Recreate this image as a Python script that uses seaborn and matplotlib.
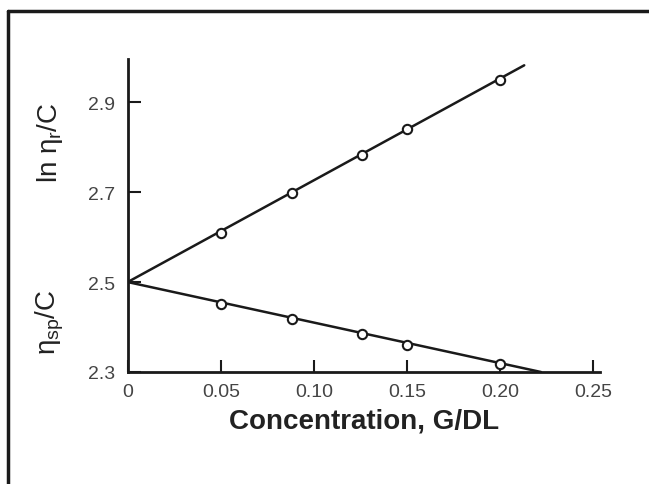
import matplotlib
matplotlib.use("Agg")
import matplotlib.pyplot as plt
from matplotlib.lines import Line2D
import seaborn as sns
import pandas as pd

# Data
conc = [0.05, 0.088, 0.126, 0.150, 0.200]
ln_eta_r_c = [2.610, 2.698, 2.782, 2.840, 2.950]
eta_sp_c = [2.451, 2.418, 2.384, 2.361, 2.318]

fit_upper_x = [0.0, 0.213]
fit_upper_y = [2.5, 2.982]
fit_lower_x = [0.0, 0.222]
fit_lower_y = [2.5, 2.300]

xticks = [0, 0.05, 0.10, 0.15, 0.20, 0.25]
xtick_labels = ["0", "0.05", "0.10", "0.15", "0.20", "0.25"]
yticks = [2.3, 2.5, 2.7, 2.9]
ytick_labels = ["2.3", "2.5", "2.7", "2.9"]

sns.set_theme(style="ticks")
plt.rcParams['font.family'] = ['Liberation Sans', 'DejaVu Sans']
plt.rcParams['mathtext.fontset'] = 'custom'
plt.rcParams['mathtext.rm'] = 'Liberation Sans'
plt.rcParams['mathtext.it'] = 'Liberation Sans'

fig = plt.figure(figsize=(6.49, 4.85), dpi=100)
ax = fig.add_axes([127.7 / 649, 1 - 373 / 485, (600 - 127.7) / 649, (373 - 60) / 485])

pts = pd.DataFrame({"x": conc * 2, "y": ln_eta_r_c + eta_sp_c,
                    "s": ["upper"] * len(conc) + ["lower"] * len(conc)})

sns.lineplot(x=fit_upper_x, y=fit_upper_y, ax=ax, color="#1a1a1a", linewidth=1.8)
sns.lineplot(x=fit_lower_x, y=fit_lower_y, ax=ax, color="#1a1a1a", linewidth=1.8)
sns.scatterplot(data=pts, x="x", y="y", ax=ax, marker="o", s=45,
                facecolor="white", edgecolor="#1a1a1a", linewidth=1.5, zorder=5,
                legend=False)

ax.set_xlim(0, 0.2537)
ax.set_ylim(2.3, 2.996)
ax.set_xticks(xticks)
ax.set_xticklabels(xtick_labels)
ax.set_yticks(yticks)
ax.set_yticklabels(ytick_labels)
ax.tick_params(direction="in", length=9, width=1.5, colors="#1a1a1a",
               labelcolor="#444444", labelsize=14)
ax.tick_params(axis="x", pad=8)
ax.tick_params(axis="y", pad=9)
ax.set_xlabel("Concentration, G/DL", fontsize=20, fontweight="bold",
              color="#222222", labelpad=5)
ax.set_ylabel("")
for side in ["top", "right"]:
    ax.spines[side].set_visible(False)
for side in ["left", "bottom"]:
    ax.spines[side].set_linewidth(2.0)
    ax.spines[side].set_color("#1a1a1a")

fig.text(50 / 649, 1 - 143 / 485, r"ln $\eta_r$/C", rotation=90,
         ha="center", va="center", fontsize=20, color="#222222")
fig.text(50 / 649, 1 - 322 / 485, r"$\eta_{sp}$/C", rotation=90,
         ha="center", va="center", fontsize=20, color="#222222")

# Outer frame (left and top edges)
fig.add_artist(Line2D([8 / 649, 1], [1 - 11.5 / 485, 1 - 11.5 / 485],
                      transform=fig.transFigure, color="#1a1a1a", linewidth=2.5))
fig.add_artist(Line2D([8 / 649, 8 / 649], [0, 1 - 11.5 / 485],
                      transform=fig.transFigure, color="#1a1a1a", linewidth=2.5))

fig.savefig("out.png", dpi=100)
